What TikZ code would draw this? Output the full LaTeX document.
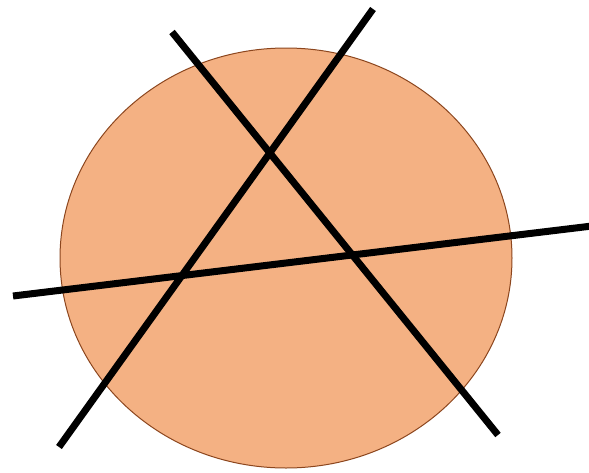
\documentclass[tikz,border=0pt]{standalone}
\definecolor{discfill}{RGB}{244,177,131}
\definecolor{discedge}{RGB}{140,70,30}
\tikzset{
  cut/.style={line width=7pt, black},
}
\begin{document}
\begin{tikzpicture}[x=1pt, y=-1pt]
    \useasboundingbox (0,0) rectangle (589,472);

    % Draw the disc
    \draw[discedge, line width=1pt, fill=discfill] (286,258) ellipse (226 and 210);

    % End points of the three cuts
    \coordinate (a1) at (172,32);
    \coordinate (a2) at (498,435);
    \coordinate (b1) at (373,9);
    \coordinate (b2) at (59,447);
    \coordinate (c1) at (13,296);
    \coordinate (c2) at (592,226);

    % Draw the cuts
    \draw[cut] (a1) -- (a2);
    \draw[cut] (b1) -- (b2);
    \draw[cut] (c1) -- (c2);
\end{tikzpicture}
\end{document}
